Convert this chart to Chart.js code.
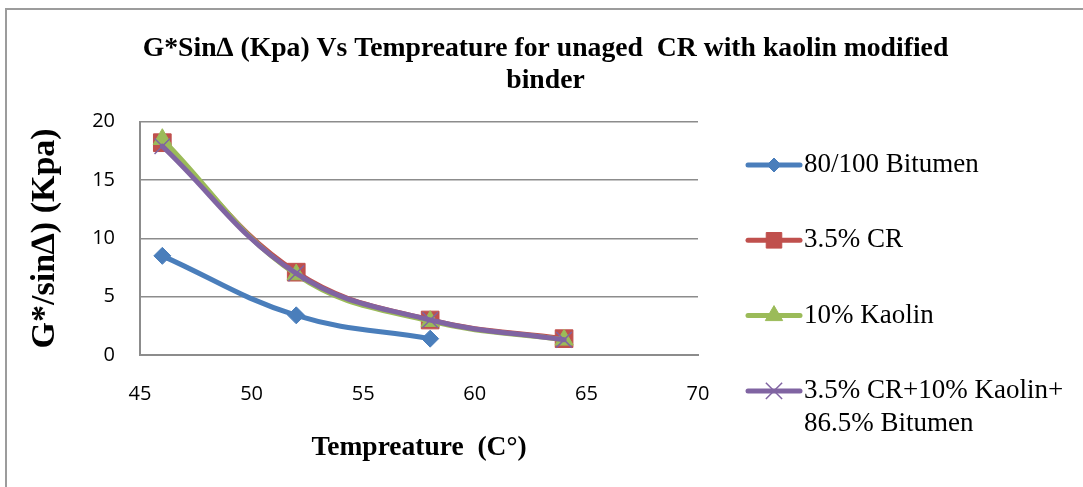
<!DOCTYPE html>
<html>
<head>
<meta charset="utf-8">
<script src="https://cdn.jsdelivr.net/npm/chart.js@4.4.0/dist/chart.umd.min.js"></script>
<style>
	body { margin: 0; background: #fff; }
	#wrap { position: relative; width: 1083px; height: 487px; overflow: hidden; }
	#frame { position: absolute; left: 5px; top: 8px; width: 1200px; height: 600px; border-left: 2px solid #9c9c9c; border-top: 2px solid #9c9c9c; }
	canvas { position: absolute; left: 0; top: 0; }
</style>
</head>
<body>
<div id="wrap">
	<div id="frame"></div>
	<canvas id="chart" width="1083" height="487"></canvas>
</div>
<script>
"use strict";

const temps = [46, 52, 58, 64];
const bitumen = [8.5, 3.4, 1.4];
const crumbRubber = [18.2, 7.1, 3.0, 1.4];
const kaolin = [18.5, 6.9, 2.9, 1.3];
const blend = [17.9, 7.0, 3.0, 1.3];

const seriesNames = [
	["80/100 Bitumen"],
	["3.5% CR"],
	["10% Kaolin"],
	["3.5% CR+10% Kaolin+", "86.5% Bitumen"],
];
const titleLines = ["G*Sin\u2206 (Kpa) Vs Tempreature for unaged  CR with kaolin modified", "binder"];
const xTitle = "Tempreature  (C\u00b0)";
const yTitle = "G*/sin\u2206) (Kpa)";

const serif = "'Liberation Serif', 'Times New Roman', serif";
const sans = "'Open Sans', 'Liberation Sans', sans-serif";
const gridGray = "#8c8c8c";

function points(ys) {
	return ys.map((y, i) => ({ x: temps[i], y: y }));
}

function series(idx, values, color, style, radius, order) {
	return {
		label: seriesNames[idx].join(" "),
		data: points(values),
		borderColor: color,
		backgroundColor: color,
		borderWidth: 5,
		borderCapStyle: "round",
		borderJoinStyle: "round",
		tension: 0.4,
		pointStyle: style,
		pointRadius: radius,
		pointBorderWidth: style === "crossRot" ? 1.5 : 1,
		pointBorderColor: color,
		pointBackgroundColor: color,
		order: order,
	};
}

// legend on the right, drawn by hand so the last entry can wrap on two lines
const sideLegend = {
	id: "sideLegend",
	afterDraw(chart, args, opts) {
		const ctx = chart.ctx;
		const x0 = chart.chartArea.right + 50;
		ctx.save();
		chart.data.datasets.forEach((ds, i) => {
			const y = opts.firstY + i * opts.rowGap;
			ctx.strokeStyle = ds.borderColor;
			ctx.lineWidth = 5;
			ctx.lineCap = "round";
			ctx.beginPath();
			ctx.moveTo(x0, y);
			ctx.lineTo(x0 + 52, y);
			ctx.stroke();

			ctx.fillStyle = ds.pointBackgroundColor;
			ctx.strokeStyle = ds.pointBorderColor;
			ctx.lineWidth = ds.pointBorderWidth;
			ctx.lineCap = "butt";
			Chart.helpers.drawPoint(ctx, {
				pointStyle: ds.pointStyle,
				radius: opts.markerRadius[i],
				rotation: 0,
				borderWidth: ds.pointBorderWidth,
			}, x0 + 26, y);

			ctx.fillStyle = "#000";
			ctx.font = "27px " + serif;
			ctx.textBaseline = "middle";
			ctx.textAlign = "left";
			seriesNames[i].forEach((line, k) => {
				ctx.fillText(line, x0 + 56, y + k * 33);
			});
		});
		ctx.restore();
	},
};

const chart = new Chart(document.getElementById("chart"), {
	type: "line",
	data: {
		datasets: [
			series(0, bitumen, "#4a7ebb", "rectRot", 8.5, 3),
			series(1, crumbRubber, "#c0504d", "rect", 12.5, 2),
			series(2, kaolin, "#9bbb59", "triangle", 10.5, 1),
			series(3, blend, "#8064a2", "crossRot", 11, 0),
		],
	},
	options: {
		responsive: false,
		animation: false,
		devicePixelRatio: 1,
		layout: { padding: { left: 8, top: 0, right: 0, bottom: 0 } },
		scales: {
			x: {
				type: "linear",
				position: "bottom",
				min: 45,
				max: 70,
				ticks: { stepSize: 5, padding: 27, color: "#000", font: { family: sans, size: 20 } },
				grid: { drawOnChartArea: false, drawTicks: false },
				border: { display: true, color: gridGray, width: 2 },
				title: {
					display: true,
					text: xTitle,
					color: "#000",
					font: { family: serif, size: 27.5, weight: "bold", lineHeight: 1.2 },
					padding: { top: 0, bottom: 23 },
				},
				afterFit(s) { s.height = 132; },
			},
			y: {
				position: "left",
				min: 0,
				max: 20,
				ticks: { stepSize: 5, padding: 25, color: "#000", font: { family: sans, size: 20 } },
				grid: { color: gridGray, lineWidth: 1.5, drawTicks: false },
				border: { display: true, color: gridGray, width: 2 },
				title: {
					display: true,
					text: yTitle,
					color: "#000",
					font: { family: serif, size: 34, weight: "bold", lineHeight: 1.2 },
					padding: { top: 17, bottom: 0 },
				},
				afterFit(s) { s.width = 132; },
			},
			// empty axis that keeps room free for the legend
			room: {
				axis: "y",
				position: "right",
				display: true,
				grid: { display: false },
				ticks: { display: false },
				border: { display: false },
				afterFit(s) { s.width = 385; },
			},
		},
		plugins: {
			legend: { display: false },
			tooltip: { enabled: false },
			title: {
				display: true,
				text: titleLines,
				color: "#000",
				font: { family: serif, size: 27.7, weight: "bold", lineHeight: 1.15 },
				padding: { top: 33, bottom: 25 },
			},
			sideLegend: {
				firstY: 165,
				rowGap: 75.3,
				markerRadius: [7, 11, 10, 11.5],
			},
		},
	},
	plugins: [sideLegend],
});
</script>
</body>
</html>
